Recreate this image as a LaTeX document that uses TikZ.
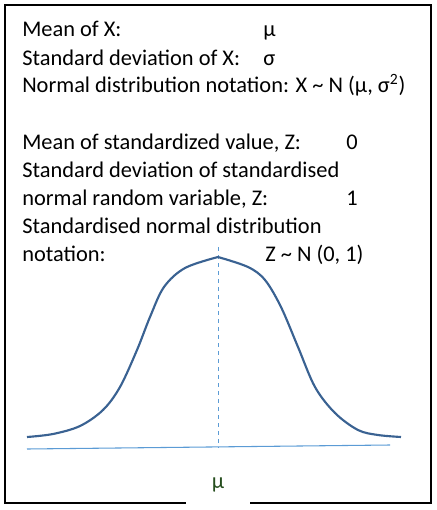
\documentclass[tikz,border=0pt]{standalone}
\usepackage{fontspec}
\setmainfont{Carlito}
\usepackage{tikz}
\usetikzlibrary{positioning}
\definecolor{bellblue}{RGB}{58, 98, 146}
\definecolor{axisblue}{RGB}{91, 155, 213}
\definecolor{mugreen}{RGB}{38, 78, 30}

\begin{document}
\begin{tikzpicture}[
  x=0.75pt, y=-0.75pt,
  every node/.style={font=\fontsize{16.8}{19}\selectfont},
  txt/.style={anchor=base west, inner sep=0pt},
  frame/.style={draw=black, line width=1.3pt},
  bell/.style={draw=bellblue, line width=1.6pt, line join=round},
  axis/.style={draw=axisblue, line width=0.8pt},
  guide/.style={draw=axisblue, line width=0.6pt, dashed},
  mulabel/.style={fill=white, text=mugreen, minimum width=48pt, minimum height=33pt, inner sep=0pt}
]
  \useasboundingbox (0,0) rectangle (436,510);
  \draw[frame] (5,5) rectangle (431,503);

  % Kennzahlen von X
  \node[txt] (meanx) at (22,37) {Mean of X:};
  \node[txt] (meanxv) at (263,37) {μ};
  \node[txt] (sdx) at (22,65) {Standard deviation of X:};
  \node[txt] (sdxv) at (263,65) {σ};
  \node[txt] (notx) at (22,93) {Normal distribution notation: X \textasciitilde{} N (μ, σ\textsuperscript{2})};

  % Kennzahlen von Z
  \node[txt] (meanz) at (22,149) {Mean of standardized value, Z:};
  \node[txt] (meanzv) at (346,149) {0};
  \node[txt] (sdz) at (22,177) {Standard deviation of standardised};
  \node[txt] (sdz2) at (22,205) {normal random variable, Z:};
  \node[txt] (sdzv) at (346,205) {1};
  \node[txt] (notz) at (22,233) {Standardised normal distribution};
  \node[txt] (notz2) at (22,261) {notation:};
  \node[txt] (notzv) at (265,261) {Z \textasciitilde{} N (0, 1)};

  % Glockenkurve
  \coordinate (peak) at (218,257);
  \coordinate (guidetop) at (218,247);
  \coordinate (guidebot) at (218,448);
  \coordinate (axl) at (27,449);
  \coordinate (axr) at (390,445);
  \draw[axis] (axl) -- (axr);
  \draw[guide] (guidetop) -- (guidebot);
  \draw[bell] plot[smooth, tension=0.55] coordinates {(27,437) (53,434) (80,426) (103,410) (120,387) (137,350) (150,317) (164,287) (185,268) (peak)};
  \draw[bell] plot[smooth, tension=0.55] coordinates {(peak) (248,267) (265,280) (281,307) (298,347) (315,387) (335,413) (358,430) (378,435) (401,437)};

  \node[mulabel] (mu) at (218,485) {μ};
\end{tikzpicture}
\end{document}
